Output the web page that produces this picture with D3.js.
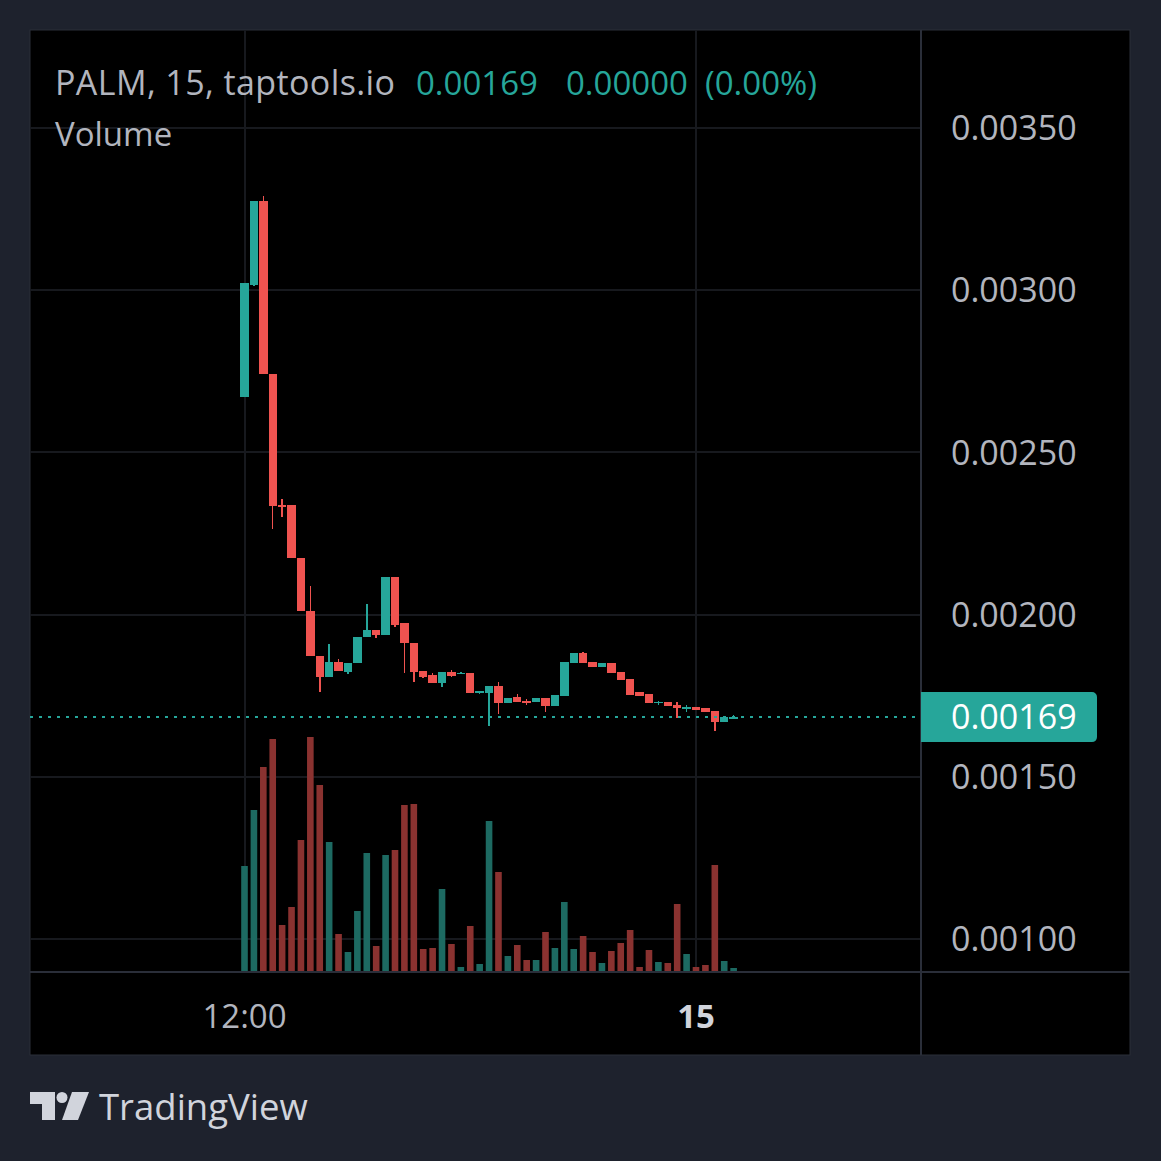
<!DOCTYPE html>
<html>
<head>
<meta charset="utf-8">
<script src="https://cdn.jsdelivr.net/npm/d3@7"></script>
<style>
  body { margin: 0; background: #1e222d; }
  svg { display: block; }
</style>
</head>
<body>
<svg id="chart"></svg>
<script>
// PALM / 15 min candles, starting 12:00 on the 14th
var opens = [
  0.002672, 0.003016, 0.003275, 0.002742, 0.002338, 0.002338, 0.002175, 0.002012, 0.001873, 0.001809,
  0.001855, 0.001823, 0.001851, 0.001930, 0.001953, 0.001937, 0.002117, 0.001973, 0.001912, 0.001826,
  0.001814, 0.001790, 0.001824, 0.001817, 0.001819, 0.001757, 0.001757, 0.001780, 0.001727, 0.001746,
  0.001735, 0.001730, 0.001744, 0.001719, 0.001749, 0.001852, 0.001883, 0.001853, 0.001840, 0.001852,
  0.001822, 0.001801, 0.001761, 0.001755, 0.001727, 0.001730, 0.001721, 0.001709, 0.001714, 0.001711,
  0.001704, 0.001670, 0.001684
];
var highs = [
  0.003021, 0.003275, 0.003290, 0.002742, 0.002356, 0.002338, 0.002175, 0.002089, 0.001873, 0.001909,
  0.001862, 0.001851, 0.001930, 0.002033, 0.001953, 0.002117, 0.002117, 0.001973, 0.001912, 0.001826,
  0.001820, 0.001822, 0.001829, 0.001823, 0.001819, 0.001763, 0.001780, 0.001793, 0.001744, 0.001754,
  0.001740, 0.001744, 0.001744, 0.001752, 0.001855, 0.001881, 0.001886, 0.001853, 0.001850, 0.001852,
  0.001822, 0.001801, 0.001761, 0.001755, 0.001734, 0.001730, 0.001732, 0.001721, 0.001714, 0.001711,
  0.001704, 0.001685, 0.001689
];
var lows = [
  0.002672, 0.003013, 0.002742, 0.002264, 0.002300, 0.002175, 0.002012, 0.001873, 0.001762, 0.001809,
  0.001826, 0.001817, 0.001851, 0.001930, 0.001928, 0.001937, 0.001962, 0.001819, 0.001793, 0.001805,
  0.001788, 0.001778, 0.001808, 0.001816, 0.001757, 0.001754, 0.001658, 0.001694, 0.001727, 0.001731,
  0.001721, 0.001730, 0.001701, 0.001719, 0.001749, 0.001852, 0.001852, 0.001840, 0.001840, 0.001821,
  0.001798, 0.001752, 0.001749, 0.001727, 0.001721, 0.001719, 0.001682, 0.001701, 0.001706, 0.001701,
  0.001641, 0.001670, 0.001680
];
var closes = [
  0.003021, 0.003275, 0.002742, 0.002335, 0.002332, 0.002175, 0.002012, 0.001873, 0.001809, 0.001853,
  0.001826, 0.001851, 0.001930, 0.001953, 0.001937, 0.002117, 0.001968, 0.001912, 0.001824, 0.001809,
  0.001788, 0.001822, 0.001812, 0.001820, 0.001757, 0.001763, 0.001780, 0.001727, 0.001744, 0.001731,
  0.001727, 0.001744, 0.001719, 0.001752, 0.001855, 0.001881, 0.001852, 0.001840, 0.001850, 0.001821,
  0.001798, 0.001752, 0.001749, 0.001727, 0.001732, 0.001719, 0.001711, 0.001714, 0.001706, 0.001701,
  0.001670, 0.001684, 0.001684
];
var volumes = [
  105, 161, 204, 232, 46, 64, 131, 234, 186, 129,
  37, 19, 60, 118, 25, 116, 121, 166, 167, 22,
  23, 82, 27, 4, 45, 7, 150, 99, 15, 26,
  11, 11, 39, 23, 69, 22, 35, 19, 8, 20,
  28, 41, 4, 21, 9, 8, 67, 17, 4, 6,
  106, 10, 3
];

var priceTicks = [0.0010, 0.0015, 0.0020, 0.0025, 0.0030, 0.0035];
var timeTickIndex = [0, 48];
var timeTickLabels = ["12:00", "15"];
var timeTickBold = [false, true];

var symbolLabel = "PALM, 15, taptools.io";
var volumeLabel = "Volume";
var lastPrice = 0.001684;
var lastPriceLabel = "0.00169";
var changeAbs = "0.00000";
var changePct = "(0.00%)";

var up = "#26a69a";
var down = "#ef5350";
var upVol = "#1d6a62";
var downVol = "#8a3230";
var textGray = "#b2b5be";
var font = "'Open Sans', sans-serif";

var W = 1161, H = 1161;
var panel = { left: 30, top: 30, right: 1130, bottom: 1055 };
var axisX = 921;   // price axis separator
var axisY = 972;   // time axis separator

var svg = d3.select("#chart")
            .attr("width", W)
            .attr("height", H);

var candles = opens.map((o, i) => ({
  i: i, open: o, high: highs[i], low: lows[i], close: closes[i], volume: volumes[i]
}));

var xScale = d3.scaleLinear()
               .domain([0, 48])
               .range([244.5, 696]);

var yScale = d3.scaleLinear()
               .domain([0.0010, 0.0035])
               .range([939, 128]);

var vScale = d3.scaleLinear()
               .domain([0, 240])
               .range([971, 731]);

function createPanel() {
  svg.append("rect")
      .attr("width", W)
      .attr("height", H)
      .attr("fill", "#1e222d");

  svg.append("rect")
      .attr("x", panel.left)
      .attr("y", panel.top)
      .attr("width", panel.right - panel.left)
      .attr("height", panel.bottom - panel.top)
      .attr("fill", "#000")
      .attr("stroke", "#2a2e39")
      .attr("stroke-width", 1);

  // grid
  var grid = svg.append("g")
                .attr("stroke", "#17191e")
                .attr("stroke-width", 2)
                .attr("shape-rendering", "crispEdges");

  grid.selectAll(".hgrid")
      .data(priceTicks)
      .enter()
      .append("line")
      .classed("hgrid", true)
      .attr("x1", panel.left)
      .attr("x2", axisX)
      .attr("y1", d => Math.round(yScale(d)))
      .attr("y2", d => Math.round(yScale(d)));

  grid.selectAll(".vgrid")
      .data(timeTickIndex)
      .enter()
      .append("line")
      .classed("vgrid", true)
      .attr("x1", d => Math.round(xScale(d)))
      .attr("x2", d => Math.round(xScale(d)))
      .attr("y1", panel.top)
      .attr("y2", axisY);

  // axis separators
  svg.append("line")
      .attr("x1", axisX).attr("x2", axisX)
      .attr("y1", panel.top).attr("y2", panel.bottom)
      .attr("stroke", "#2a2e39")
      .attr("stroke-width", 2);

  svg.append("line")
      .attr("x1", panel.left).attr("x2", panel.right)
      .attr("y1", axisY).attr("y2", axisY)
      .attr("stroke", "#2a2e39")
      .attr("stroke-width", 2);
}

function drawVolume() {
  svg.append("g")
    .selectAll(".vol")
    .data(candles)
    .enter()
    .append("rect")
      .classed("vol", true)
      .attr("x", d => xScale(d.i) - 3.3)
      .attr("width", 6.6)
      .attr("y", d => vScale(d.volume))
      .attr("height", d => vScale(0) - vScale(d.volume))
      .attr("fill", d => d.close >= d.open ? upVol : downVol);
}

function drawCandles() {
  var g = svg.append("g")
             .attr("shape-rendering", "crispEdges");

  g.selectAll(".wick")
    .data(candles)
    .enter()
    .append("line")
      .classed("wick", true)
      .attr("x1", d => xScale(d.i))
      .attr("x2", d => xScale(d.i))
      .attr("y1", d => yScale(d.high))
      .attr("y2", d => yScale(d.low))
      .attr("stroke", d => d.close >= d.open ? up : down)
      .attr("stroke-width", 1.5);

  g.selectAll(".body")
    .data(candles)
    .enter()
    .append("rect")
      .classed("body", true)
      .attr("x", d => xScale(d.i) - 4.2)
      .attr("width", 8.4)
      .attr("y", d => yScale(Math.max(d.open, d.close)))
      .attr("height", d => Math.max(1.5, Math.abs(yScale(d.open) - yScale(d.close))))
      .attr("fill", d => d.close >= d.open ? up : down);
}

function drawPriceAxis() {
  svg.selectAll(".ptick")
    .data(priceTicks)
    .enter()
    .append("text")
      .classed("ptick", true)
      .attr("x", 951)
      .attr("y", d => yScale(d))
      .attr("dy", "0.36em")
      .attr("fill", textGray)
      .style("font-family", font)
      .style("font-size", "34px")
      .text(d => d3.format(".5f")(d));

  // last price line + label
  var ly = yScale(lastPrice);

  svg.append("line")
      .attr("x1", panel.left)
      .attr("x2", axisX)
      .attr("y1", ly)
      .attr("y2", ly)
      .attr("stroke", up)
      .attr("stroke-width", 2)
      .attr("stroke-dasharray", "3 6");

  svg.append("path")
      .attr("d", "M" + axisX + "," + (ly - 25) +
                 " H1092 a5,5 0 0 1 5,5 V" + (ly + 20) +
                 " a5,5 0 0 1 -5,5 H" + axisX + " Z")
      .attr("fill", up);

  svg.append("text")
      .attr("x", 951)
      .attr("y", ly)
      .attr("dy", "0.36em")
      .attr("fill", "#fff")
      .style("font-family", font)
      .style("font-size", "34px")
      .text(lastPriceLabel);
}

function drawTimeAxis() {
  svg.selectAll(".ttick")
    .data(timeTickIndex)
    .enter()
    .append("text")
      .classed("ttick", true)
      .attr("x", d => xScale(d))
      .attr("y", 1028)
      .style("text-anchor", "middle")
      .style("font-family", font)
      .style("font-size", "33px")
      .style("font-weight", (d, i) => timeTickBold[i] ? "bold" : "normal")
      .attr("fill", (d, i) => timeTickBold[i] ? "#d1d4dc" : textGray)
      .text((d, i) => timeTickLabels[i]);
}

function drawLegend() {
  var legend = svg.append("g")
                  .style("font-family", font)
                  .style("font-size", "33px");

  legend.append("text")
      .attr("x", 55)
      .attr("y", 95)
      .attr("fill", textGray)
      .style("font-size", "34px")
      .style("letter-spacing", "0.4px")
      .text(symbolLabel);

  legend.append("text")
      .attr("x", 416)
      .attr("y", 95)
      .attr("fill", up)
      .text(lastPriceLabel);

  legend.append("text")
      .attr("x", 566)
      .attr("y", 95)
      .attr("fill", up)
      .text(changeAbs);

  legend.append("text")
      .attr("x", 705)
      .attr("y", 95)
      .attr("fill", up)
      .text(changePct);

  legend.append("text")
      .attr("x", 55)
      .attr("y", 146)
      .attr("fill", textGray)
      .text(volumeLabel);
}

function drawLogo() {
  var logo = svg.append("g")
                .attr("fill", "#d1d4dc");

  logo.append("path")
      .attr("d", "M30,1092 H55 V1120 H42 V1104 H30 Z");

  logo.append("circle")
      .attr("cx", 62)
      .attr("cy", 1097.5)
      .attr("r", 5.5);

  logo.append("path")
      .attr("d", "M72,1092 H89 L78,1120 H62 Z");

  logo.append("text")
      .attr("x", 99)
      .attr("y", 1120)
      .style("font-family", font)
      .style("font-size", "36.5px")
      .text("TradingView");
}

createPanel();
drawVolume();
drawCandles();
drawPriceAxis();
drawTimeAxis();
drawLegend();
drawLogo();
</script>
</body>
</html>
